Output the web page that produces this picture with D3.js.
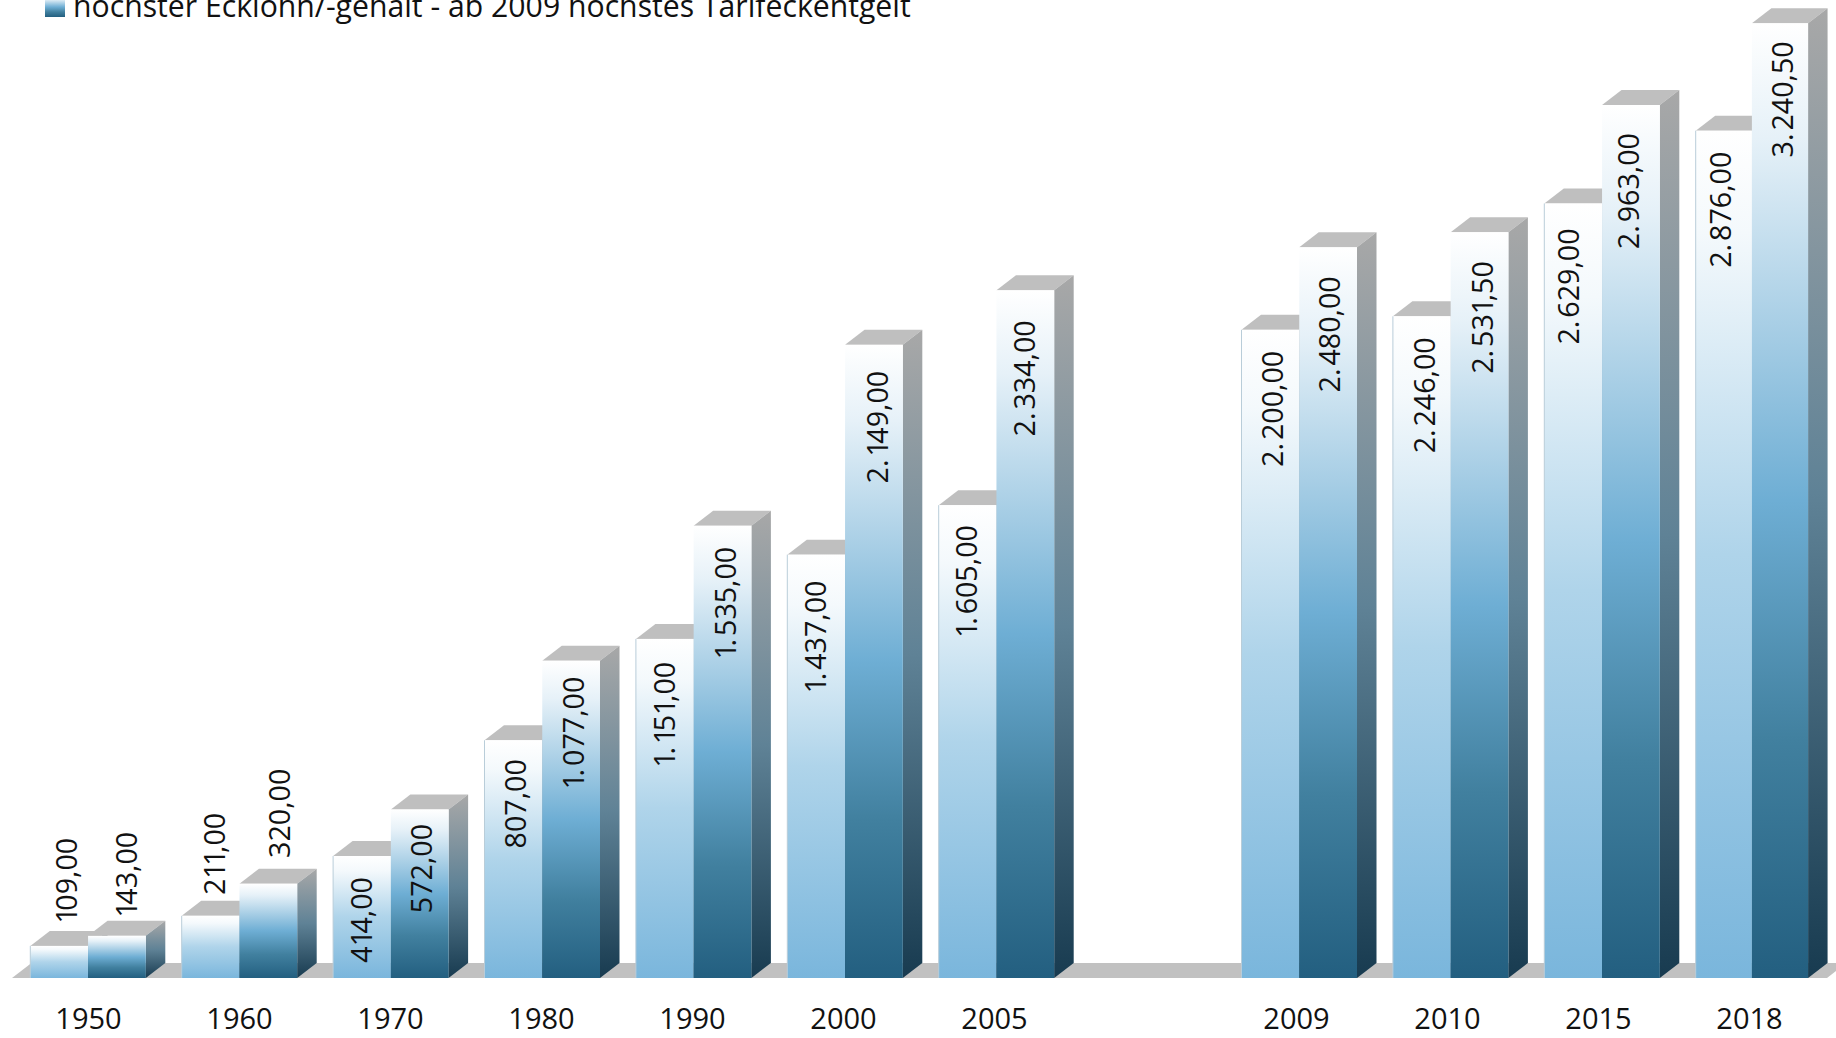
<!DOCTYPE html>
<html><head><meta charset="utf-8">
<script src="https://cdn.jsdelivr.net/npm/d3@7"></script>
<style>html,body{margin:0;padding:0;background:#fff;overflow:hidden}svg{display:block}text{font-family:"Open Sans",sans-serif;fill:#111}</style>
</head><body><svg id="c" width="1836" height="1038"></svg>
<script>
const years=["1950","1960","1970","1980","1990","2000","2005"," ","2009","2010","2015","2018"];
const lowValues=[109,211,414,807,1151,1437,1605,null,2200,2246,2629,2876];
const highValues=[143,320,572,1077,1535,2149,2334,null,2480,2531.5,2963,3240.5];
const lowLabelGap=[-108,-103,21,19,23,26,20,null,21,21,25,21];
const highLabelGap=[-104,-115,14.5,16,21,26,30,null,29,29,28,18];
const lowLabelShift=[8,4,0,3,0,0,-1,null,3,3,-4,-4];
const highLabelShift=[10,12,2,3,3,4,0,null,2,3,-2,1];
const groupWidthFactor=[1,1,1,1,1,1,1,null,1,1,1,0.973];
const legendText="höchster Ecklohn/-gehalt - ab 2009 höchstes Tarifeckentgelt";

const W=1836,H=1038,base=978,dx=19.5,dy=15;
const svg=d3.select("#c");
const fmt=d3.formatLocale({decimal:",",thousands:".",grouping:[3],currency:["","€"]}).format(",.2f");
const x=d3.scaleBand().domain(years).range([30.3,1811.2]).paddingInner(0.2371).paddingOuter(0);
const sub=d3.scaleBand().domain(["low","high"]).range([0,x.bandwidth()]);
const y=d3.scaleLinear().domain([0,3240.5]).range([base,23.3]);
const tickX=d3.scalePoint().domain(years).range([88,1749]);

const defs=svg.append("defs");
function grad(id,stops){
  const g=defs.append("linearGradient").attr("id",id).attr("x1",0).attr("y1",0).attr("x2",0).attr("y2",1);
  stops.forEach(([o,c])=>g.append("stop").attr("offset",o).attr("stop-color",c));
}
grad("gLow",[[0,"#ffffff"],[0.12,"#f4f9fc"],[0.5,"#afd4ea"],[1,"#7ab6dc"]]);
grad("gHigh",[[0,"#ffffff"],[0.12,"#e6f1f8"],[0.5,"#6eaed4"],[0.75,"#41809f"],[1,"#235f80"]]);
grad("gSide",[[0,"#a8a8a8"],[0.5,"#5f8296"],[1,"#183b50"]]);

// floor
svg.append("path").attr("d",d3.line()([[12,base],[12+dx,base-dy],[1827+dx,base-dy],[1827,base]])+"Z").attr("fill","#c1c1c1");

// legend
svg.append("rect").attr("x",45).attr("y",-3).attr("width",20).attr("height",20).attr("fill","url(#gHigh)");
svg.append("text").attr("x",73).attr("y",16.5).attr("font-size",30.2).text(legendText);

// bars
const rows=years.map((yr,i)=>({yr,i})).filter(d=>lowValues[d.i]!=null);
const groups=svg.append("g").selectAll("g").data(rows).join("g");
function barX(d,key){return x(d.yr)+sub(key)*groupWidthFactor[d.i];}
function bars(key,values,fill){
  groups.each(function(d){
    const v=values[d.i],x0=barX(d,key),w=sub.bandwidth()*groupWidthFactor[d.i],t=y(v);
    const g=d3.select(this);
    g.append("path").attr("fill","#bfbfbf")
      .attr("d",d3.line()([[x0,t],[x0+dx,t-dy],[x0+w+dx,t-dy],[x0+w,t]])+"Z");
    g.append("path").attr("fill","url(#gSide)")
      .attr("d",d3.line()([[x0+w,t],[x0+w+dx,t-dy],[x0+w+dx,base-dy],[x0+w,base]])+"Z");
    g.append("rect").attr("x",x0).attr("y",t).attr("width",w).attr("height",base-t)
      .attr("fill",fill);
    if(key==="low") g.append("line").attr("x1",x0).attr("x2",x0).attr("y1",t).attr("y2",base)
      .attr("stroke","#b9cdd9").attr("stroke-width",1);
  });
}
// the reference's typeface has a narrow "1" and a wider "."; adjust glyph advances to suit
function advances(s){
  const chars=[...s];
  return chars.map((c,i)=>{
    const p=chars[i-1];
    return p==="1"?-3.5:p==="."?3:0;
  }).join(" ");
}
function labels(key,values,gaps,shifts){
  groups.each(function(d){
    const v=values[d.i],cx=x(d.yr)+sub(key)+sub.bandwidth()/2+shifts[d.i],top=y(v)+gaps[d.i];
    const s=fmt(v);
    d3.select(this.ownerSVGElement).append("text")
      .attr("transform",`translate(${cx+10},${top}) rotate(-90)`)
      .attr("text-anchor","end").attr("font-size",28.6).attr("dx",advances(s)).text(s);
  });
}
bars("low",lowValues,"url(#gLow)");
bars("high",highValues,"url(#gHigh)");
labels("low",lowValues,lowLabelGap,lowLabelShift);
labels("high",highValues,highLabelGap,highLabelShift);

// axis
const ax=svg.append("g").attr("transform",`translate(0,${base})`)
  .call(d3.axisBottom(tickX).tickSize(0).tickPadding(30.5));
ax.select(".domain").remove();
ax.selectAll("text").attr("font-size",29).attr("font-family",'"Open Sans",sans-serif').attr("fill","#111");
</script></body></html>
